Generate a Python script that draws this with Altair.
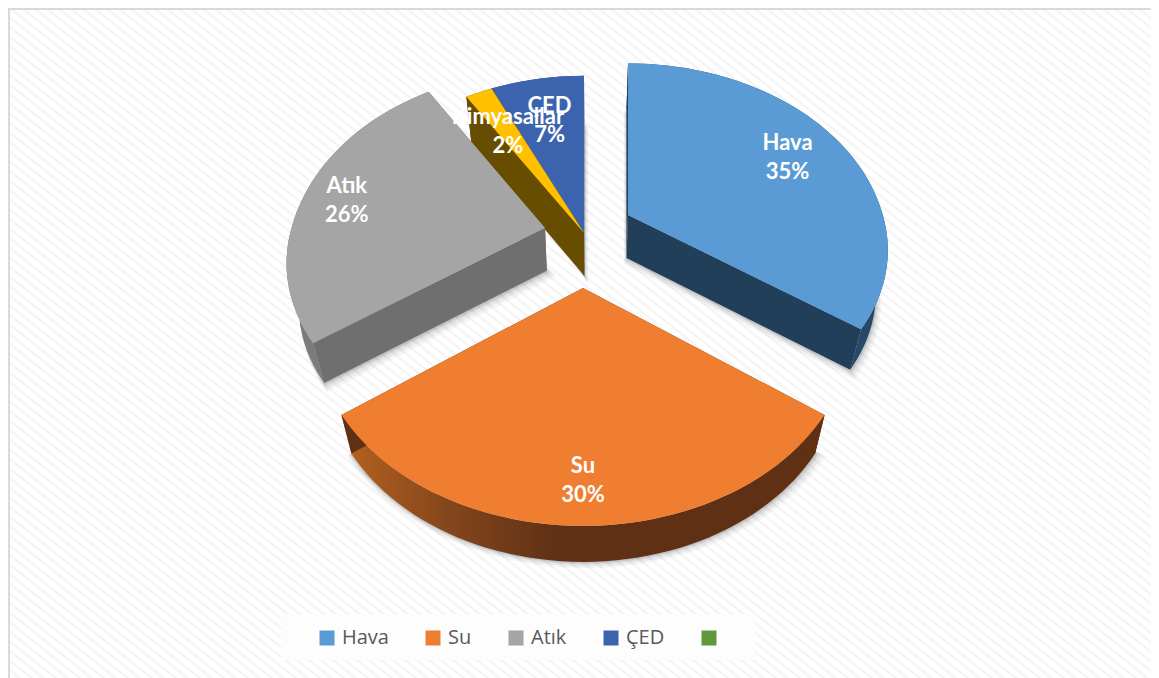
import math
import altair as alt
import pandas as pd

# --- chart values
names = ["Hava", "Su", "Atık", "Kimyasallar", "ÇED"]
shares = [35, 30, 26, 2, 7]
legend_names = ["Hava", "Su", "Atık", "ÇED", "\u00a0"]
legend_colors = ["#5B9BD5", "#ED7D31", "#A5A5A5", "#3C64AE", "#63983A"]
top_colors = {"Hava": "#5B9BD5", "Su": "#F07E30", "Atık": "#A5A5A5", "Kimyasallar": "#FFC000", "ÇED": "#3C64AE"}
wall_colors = {"Hava": "#223F59", "Su": "#5F3014", "Atık": "#6F6F6F", "Kimyasallar": "#664D00", "ÇED": "#24406F"}
rim_colors = {"Hava": "#26486A", "Su": "#5F3014", "Atık": "#7B7B7B", "Kimyasallar": "#664D00", "ÇED": "#24406F"}
explode = {"Hava": (44, -20), "Su": (-1, 53), "Atık": (-39, -7), "Kimyasallar": (0, -2), "ÇED": (0, -2)}
shrink = {"Hava": (0.965, 0.95, 0.90), "Su": (1, 1, 1), "Atık": (0.96, 0.985, 0.905),
          "Kimyasallar": (0.97, 0.985, 1), "ÇED": (0.97, 0.985, 1)}
label_r = {"Hava": 0.75, "Su": 0.84, "Atık": 0.82, "Kimyasallar": 0.69, "ÇED": 0.70}
draw_order = ["ÇED", "Kimyasallar", "Atık", "Hava", "Su"]

# --- tilted-disc view of the pie
CX, CY, RX, RY, PERSP = 584, 235, 264, 191, 0.197
def view(n, X, Y):
    w = 1 - PERSP * Y
    sx, up, down = shrink[n]
    ex, ey = explode[n]
    return CX + ex + sx * RX * X / w, CY + ey + (down if Y > 0 else up) * RY * Y / w
def lower(p):
    x, y = p
    return 590 + (x - 590) * 0.96, y + 43 - (y - 215) * 0.0224

spans = {}
acc = 0.0
for n, s in zip(names, shares):
    spans[n] = (acc * 3.6, (acc + s) * 3.6)
    acc += s

def slice_outline(n):
    a0, a1 = spans[n]
    steps = max(6, int((a1 - a0) / 2))
    arc = []
    for i in range(steps + 1):
        t = math.radians(a0 + (a1 - a0) * i / steps)
        arc.append(view(n, math.sin(t), -math.cos(t)))
    return view(n, 0, 0), arc

xs = alt.Scale(domain=[8, 1151], nice=False, zero=False)
ys = alt.Scale(domain=[678, 8], nice=False, zero=False)

def poly(points, fill, opacity=1.0):
    df = pd.DataFrame({"x": [p[0] for p in points], "y": [p[1] for p in points], "i": range(len(points))})
    return alt.Chart(df).mark_line(fill=fill, stroke=None, strokeWidth=0, interpolate="linear-closed",
                                   opacity=opacity).encode(
        x=alt.X("x:Q", scale=xs, axis=None),
        y=alt.Y("y:Q", scale=ys, axis=None),
        order="i:Q",
    )

layers = []
one = pd.DataFrame({"a": [0]})

# hatched backdrop
layers.append(alt.Chart(one).mark_rect(color="#F5F5F5").encode(
    x=alt.value(0), x2=alt.value(1143), y=alt.value(0), y2=alt.value(670)))
hatch = pd.DataFrame([{"x": t, "y": 8, "x2": t + 900, "y2": 8 + 900 * 0.8} for t in range(-860, 1159, 12)])
layers.append(alt.Chart(hatch).mark_rule(color="#FFFFFF", strokeWidth=5, clip=True).encode(
    x=alt.X("x:Q", scale=xs, axis=None), x2="x2:Q",
    y=alt.Y("y:Q", scale=ys, axis=None), y2="y2:Q"))
# frame
layers.append(alt.Chart(one).mark_rect(color="#DADADA").encode(
    x=alt.value(0), x2=alt.value(1143), y=alt.value(0), y2=alt.value(2)))
layers.append(alt.Chart(one).mark_rect(color="#DADADA").encode(
    x=alt.value(0), x2=alt.value(2), y=alt.value(0), y2=alt.value(670)))
# legend plate
layers.append(alt.Chart(one).mark_rect(color="#FDFDFD").encode(
    x=alt.value(273), x2=alt.value(747), y=alt.value(606), y2=alt.value(652)))

# soft shadows
for off, op in [(10, 0.035), (7, 0.05), (4, 0.07), (2, 0.09)]:
    for n in draw_order:
        apex, arc = slice_outline(n)
        pts = [lower(apex)] + [lower(p) for p in arc]
        cx0 = sum(p[0] for p in pts) / len(pts)
        cy0 = sum(p[1] for p in pts) / len(pts)
        grown = [(cx0 + (x - cx0) * (1 + off / 300) + off * 0.3, cy0 + (y - cy0) * (1 + off / 300) + off * 0.5) for x, y in pts]
        layers.append(poly(grown, "#000000", op))

for n in draw_order:
    apex, arc = slice_outline(n)
    low_arc = [lower(p) for p in arc]
    low_apex = lower(apex)
    rim = rim_colors[n]
    if n == "Su":
        rim = alt.Gradient(gradient="linear", x1=1, x2=0, y1=0, y2=0, stops=[
            alt.GradientStop(offset=0, color="#5F3014"),
            alt.GradientStop(offset=0.55, color="#5F3014"),
            alt.GradientStop(offset=0.78, color="#84461C"),
            alt.GradientStop(offset=1, color="#B8621F")])
    layers.append(poly(arc + low_arc[::-1], rim))
    layers.append(poly([apex, arc[0], low_arc[0], low_apex], wall_colors[n]))
    layers.append(poly([apex, arc[-1], low_arc[-1], low_apex], wall_colors[n]))
    layers.append(poly([apex] + arc, top_colors[n]))

# data labels
rows = []
for n, s in zip(names, shares):
    a0, a1 = spans[n]
    mid = math.radians((a0 + a1) / 2)
    r = label_r[n]
    x, y = view(n, r * math.sin(mid), -r * math.cos(mid))
    rows.append({"x": x, "y": y, "t": f"{n}\n{s}%"})
layers.append(alt.Chart(pd.DataFrame(rows)).mark_text(
    font="Lato", fontWeight="bold", fontSize=22, color="white", lineBreak="\n", lineHeight=29,
    baseline="middle", dy=-14
).encode(x=alt.X("x:Q", scale=xs, axis=None), y=alt.Y("y:Q", scale=ys, axis=None), text="t:N"))

# legend carrier
leg = alt.Chart(pd.DataFrame({"n": legend_names})).mark_square(size=0, opacity=0).encode(
    x=alt.value(-50), y=alt.value(-50),
    fill=alt.Fill("n:N", scale=alt.Scale(domain=legend_names, range=legend_colors), legend=alt.Legend(
        title=None, orient="none", legendX=309, legendY=620, direction="horizontal", columns=5,
        gridAlign="none", columnPadding=34, symbolType="square", symbolSize=225, symbolOpacity=1,
        symbolStrokeWidth=0, labelFont="Open Sans", labelFontSize=20, labelColor="#595959", labelOffset=5,
        labelExpr="datum.label == 'Hava' ? '\u00a0Hava' : datum.label",
    )))
layers.append(leg)

chart = alt.layer(*layers).properties(
    width=1143, height=670, padding=0, autosize=alt.AutoSizeParams(type="none"), background="#FFFFFF"
).configure_view(stroke=None)

chart.save("out.html", embed_options={"renderer": "svg", "actions": False})
